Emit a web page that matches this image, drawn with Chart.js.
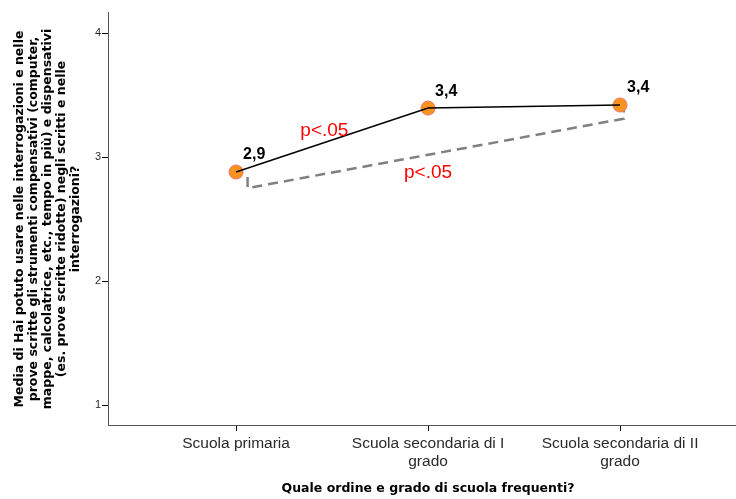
<!DOCTYPE html>
<html lang="it">
<head>
  <meta charset="UTF-8" />
  <title>Media per ordine di scuola</title>
  <script src="https://cdn.jsdelivr.net/npm/chart.js"></script>
  <style>
    html, body { margin: 0; padding: 0; background: #fff; }
    #wrap { width: 736px; height: 499px; position: relative; }
  </style>
</head>
<body>
  <div id="wrap"><canvas id="chart"></canvas></div>

  <script>
    // categories on the x axis (positions 0, 1, 2)
    const categories = ['Scuola primaria', ['Scuola secondaria di I', 'grado'], ['Scuola secondaria di II', 'grado']];
    const catPos = [0, 1, 2];
    const means = [2.88, 3.395, 3.42];
    const meanLabels = ['2,9', '3,4', '3,4'];
    const yTicks = [1, 2, 3, 4];

    // dashed bracket between primaria and secondaria II
    const bracketX = [0.06, 0.06, 2.02, 2.02];
    const bracketY = [2.84, 2.75, 3.31, 3.40];

    // significance notes
    const noteText = ['p<.05', 'p<.05'];
    const noteX = [0.46, 1.0];
    const noteY = [3.21, 2.87];

    const yTitle = [
      'Media di Hai potuto usare nelle interrogazioni e nelle',
      'prove scritte gli strumenti compensativi (computer,',
      'mappe, calcolatrice, etc., tempo in più) e dispensativi',
      '(es. prove scritte ridotte) negli scritti e nelle',
      'interrogazioni?'
    ];
    const xTitle = 'Quale ordine e grado di scuola frequenti?';

    const FONT = '"Liberation Sans", Arial, sans-serif';
    const TITLE_FONT = '"DejaVu Sans", Verdana, sans-serif';

    const extras = {
      id: 'extras',
      afterDatasetsDraw(chart) {
        const ctx = chart.ctx;
        const xs = chart.scales.x, ys = chart.scales.y;
        ctx.save();
        // value labels
        const meta = chart.getDatasetMeta(1);
        ctx.font = 'bold 16px ' + FONT;
        ctx.fillStyle = '#000';
        ctx.textAlign = 'left';
        ctx.textBaseline = 'bottom';
        meta.data.forEach((pt, i) => {
          ctx.fillText(meanLabels[i], pt.x + 7, pt.y - 9);
        });
        // p notes
        ctx.font = '19px ' + FONT;
        ctx.fillStyle = '#ff0000';
        ctx.textAlign = 'center';
        ctx.textBaseline = 'middle';
        noteText.forEach((t, i) => {
          ctx.fillText(t, xs.getPixelForValue(noteX[i]), ys.getPixelForValue(noteY[i]));
        });
        // axis titles
        ctx.fillStyle = '#000';
        ctx.font = 'bold 12.5px ' + TITLE_FONT;
        ctx.textAlign = 'center';
        ctx.textBaseline = 'middle';
        ctx.fillText(xTitle, 428, 489);
        ctx.translate(48, 219);
        ctx.rotate(-Math.PI / 2);
        yTitle.forEach((line, i) => {
          ctx.fillText(line, 0, (i - 2) * 14);
        });
        ctx.restore();
      }
    };

    new Chart(document.getElementById('chart'), {
      type: 'scatter',
      data: {
        datasets: [
          {
            data: bracketX.map((x, i) => ({ x, y: bracketY[i] })),
            showLine: true,
            borderColor: '#808080',
            borderWidth: 2.5,
            borderDash: [10, 6],
            pointRadius: 0,
            order: 3
          },
          {
            // mean markers
            data: catPos.map((x, i) => ({ x, y: means[i] })),
            showLine: false,
            pointRadius: 7,
            pointBackgroundColor: '#F7931E',
            pointBorderColor: '#F2706A',
            pointBorderWidth: 1,
            order: 2
          },
          {
            // connecting line, drawn over the markers
            data: catPos.map((x, i) => ({ x, y: means[i] })),
            showLine: true,
            borderColor: '#000',
            borderWidth: 1.5,
            pointRadius: 0,
            order: 1
          }
        ]
      },
      options: {
        responsive: true,
        maintainAspectRatio: false,
        animation: false,
        layout: { autoPadding: false, padding: { top: 12, right: 0, left: 0, bottom: 0 } },
        plugins: { legend: { display: false }, tooltip: { enabled: false } },
        scales: {
          x: {
            type: 'linear',
            min: -0.667,
            max: 2.604,
            afterBuildTicks: s => { s.ticks = catPos.map(v => ({ value: v })); },
            afterFit: s => { s.height = 74; },
            ticks: {
              callback: v => categories[v],
              color: '#2a2a2a',
              font: { family: FONT, size: 15.5 },
              padding: 3,
              maxRotation: 0,
              autoSkip: false
            },
            grid: { drawOnChartArea: false, drawTicks: true, tickLength: 6, color: '#000' },
            border: { display: true, color: '#555', width: 1 }
          },
          y: {
            min: 0.84,
            max: 4.17,
            afterBuildTicks: s => { s.ticks = yTicks.map(v => ({ value: v })); },
            afterFit: s => { s.width = 108; },
            ticks: {
              color: '#2a2a2a',
              font: { family: FONT, size: 11 },
              padding: 1
            },
            grid: { drawOnChartArea: false, drawTicks: true, tickLength: 6, color: '#000' },
            border: { display: true, color: '#555', width: 1 }
          }
        }
      },
      plugins: [extras]
    });
  </script>
</body>
</html>
